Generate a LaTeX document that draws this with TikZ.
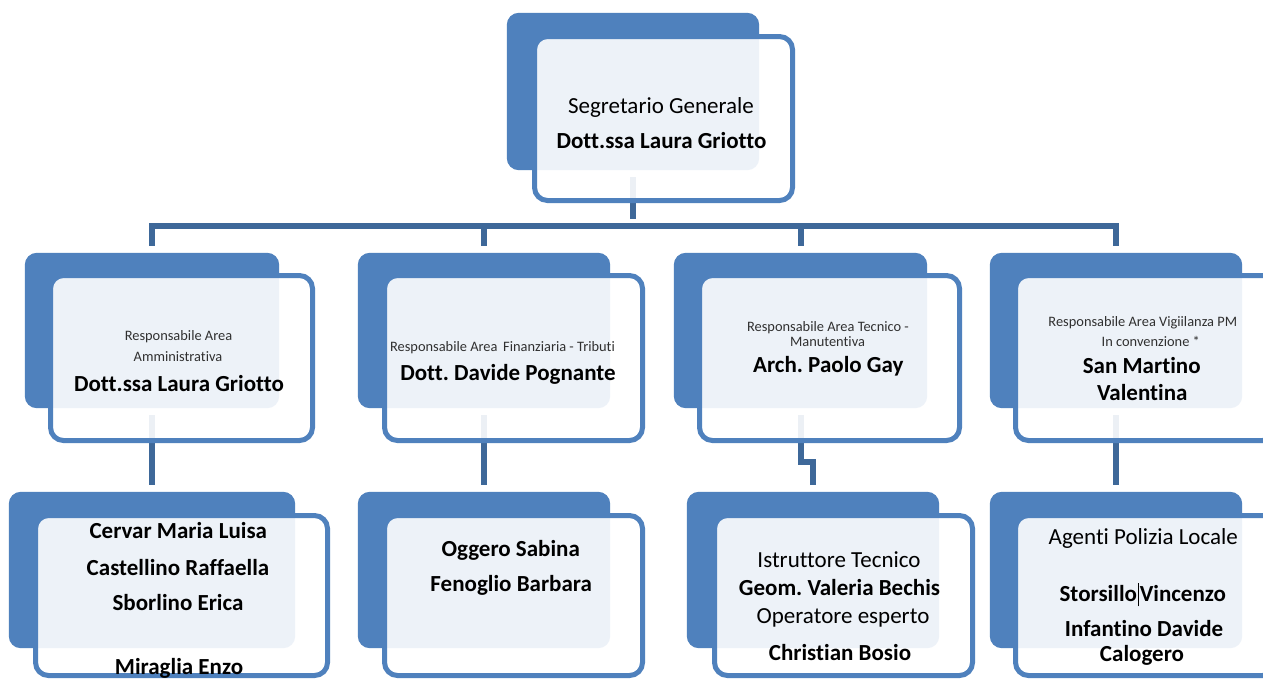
\documentclass[tikz,border=0pt]{standalone}
\usepackage{fontspec}
\setmainfont{Carlito}[Ligatures=NoCommon]
\frenchspacing
\definecolor{acc}{HTML}{4F81BD}
\definecolor{connc}{HTML}{3E6899}
\definecolor{smalltext}{HTML}{303030}
\tikzset{
  backbox/.style={rectangle, draw=none, fill=acc, rounded corners=12pt, inner sep=0pt},
  frontbox/.style={rectangle, draw=acc, line width=5pt, fill=white, fill opacity=0.9, draw opacity=1, rounded corners=13pt, inner sep=0pt},
  conn/.style={draw=connc, line width=6pt, line join=miter, shorten <=7pt, shorten >=7pt},
  bigtxt/.style={anchor=base, inner sep=0pt, font=\fontsize{23}{27}\selectfont\frenchspacing, text=black},
  boldtxt/.style={bigtxt, font=\fontsize{23}{27}\selectfont\bfseries\frenchspacing},
  smalltxt/.style={anchor=base, inner sep=0pt, font=\fontsize{14.4}{17}\selectfont\frenchspacing, text=smalltext},
}
\begin{document}
\begin{tikzpicture}[x=1pt,y=-1pt]
\clip (0,0) rectangle (1263,678);
\fill[white] (0,0) rectangle (1263,678);

% back boxes (placed first as nodes so connectors can refer to them; drawn later)
\path
  node[backbox, minimum width=252pt, minimum height=157pt, fill=none] (b0)  at (633,91.5) {}
  node[backbox, minimum width=254pt, minimum height=155pt, fill=none] (b21) at (152,330.5) {}
  node[backbox, minimum width=252pt, minimum height=155pt, fill=none] (b22) at (484,330.5) {}
  node[backbox, minimum width=253pt, minimum height=155pt, fill=none] (b23) at (800.5,330.5) {}
  node[backbox, minimum width=252pt, minimum height=155pt, fill=none] (b24) at (1116,330.5) {}
  node[backbox, minimum width=286pt, minimum height=156pt, fill=none] (b31) at (152,570) {}
  node[backbox, minimum width=252pt, minimum height=156pt, fill=none] (b32) at (484,570) {}
  node[backbox, minimum width=252pt, minimum height=156pt, fill=none] (b33) at (813,570) {}
  node[backbox, minimum width=252pt, minimum height=156pt, fill=none] (b34) at (1116,570) {};

\coordinate (bus) at (0,225.5);
\coordinate (jog) at (0,462);

% connectors
\draw[conn] (b0.south) -- (b0.south |- bus);
\draw[conn] (b21.north) -- (b21.north |- bus) -- (b24.north |- bus) -- (b24.north);
\draw[conn, shorten <=0pt] (b22.north |- bus) -- (b22.north);
\draw[conn, shorten <=0pt] (b23.north |- bus) -- (b23.north);
\draw[conn] (b21.south) -- (b31.north);
\draw[conn] (b22.south) -- (b32.north);
\draw[conn] (b23.south) -- (b23.south |- jog) -- (b33.north |- jog) -- (b33.north);
\draw[conn] (b24.south) -- (b34.north);

% back boxes drawn
\foreach \b in {b0,b21,b22,b23,b24,b31,b32,b33,b34}
  \fill[acc, rounded corners=12pt] (\b.north west) rectangle (\b.south east);

% front boxes
\node[frontbox, minimum width=258pt, minimum height=164pt] (f0)  at (663.5,118.5) {};
\node[frontbox, minimum width=262pt, minimum height=165pt] (f21) at (181.5,358) {};
\node[frontbox, minimum width=258pt, minimum height=165pt] (f22) at (513.5,358) {};
\node[frontbox, minimum width=260pt, minimum height=165pt] (f23) at (829.5,358) {};
\node[frontbox, minimum width=260pt, minimum height=165pt] (f24) at (1145.5,358) {};
\node[frontbox, minimum width=292pt, minimum height=160pt] (f31) at (181.5,595.5) {};
\node[frontbox, minimum width=258pt, minimum height=160pt] (f32) at (513.5,595.5) {};
\node[frontbox, minimum width=258pt, minimum height=160pt] (f33) at (843.5,595.5) {};
\node[frontbox, minimum width=260pt, minimum height=160pt] (f34) at (1145.5,595.5) {};

% texts: top
\node[bigtxt]  (t0a) at (661,113) {Segretario Generale};
\node[boldtxt] (t0b) at (661.5,148) {Dott.ssa Laura Griotto};

% level 2
\node[smalltxt] (t21a) at (178.5,340) {Responsabile Area};
\node[smalltxt] (t21b) at (178,361.7) {Amministrativa};
\node[boldtxt]  (t21c) at (179,391.7) {Dott.ssa Laura Griotto};

\node[smalltxt] (t22a) at (502.5,351.7) {Responsabile Area\, Finanziaria - Tributi};
\node[boldtxt]  (t22b) at (508,380) {Dott. Davide Pognante};

\node[smalltxt] (t23a) at (828,331.7) {Responsabile Area Tecnico -};
\node[smalltxt] (t23b) at (827.5,346.7) {Manutentiva};
\node[boldtxt]  (t23c) at (828.3,372.7) {Arch. Paolo Gay};

\node[smalltxt] (t24a) at (1142.8,326.7) {Responsabile Area Vigiilanza PM};
\node[smalltxt] (t24b) at (1150.8,346) {In convenzione *};
\node[boldtxt]  (t24c) at (1141.7,373.3) {San Martino};
\node[boldtxt]  (t24d) at (1142.3,400) {Valentina};

% level 3
\node[boldtxt] (t31a) at (178.3,538.3) {Cervar Maria Luisa};
\node[boldtxt] (t31b) at (178,575) {Castellino Raffaella};
\node[boldtxt] (t31c) at (178,610.7) {Sborlino Erica};
\node[boldtxt] (t31d) at (179,674) {Miraglia Enzo};

\node[boldtxt] (t32a) at (510.8,556.7) {Oggero Sabina};
\node[boldtxt] (t32b) at (511.2,591.7) {Fenoglio Barbara};

\node[bigtxt]  (t33a) at (839,567.3) {Istruttore Tecnico};
\node[boldtxt] (t33b) at (839.5,595) {Geom. Valeria Bechis};
\node[bigtxt]  (t33c) at (843,623.3) {Operatore esperto};
\node[boldtxt] (t33d) at (840,660) {Christian Bosio};

\node[bigtxt]  (t34a) at (1143.3,544) {Agenti Polizia Locale};
\node[boldtxt] (t34b) at (1142.8,601.7) {Storsillo\kern1pt\rule[-0.2em]{0.8pt}{1em}\kern1pt Vincenzo};
\node[boldtxt] (t34c) at (1144,636.7) {Infantino Davide};
\node[boldtxt] (t34d) at (1142,661.7) {Calogero};
\end{tikzpicture}
\end{document}
